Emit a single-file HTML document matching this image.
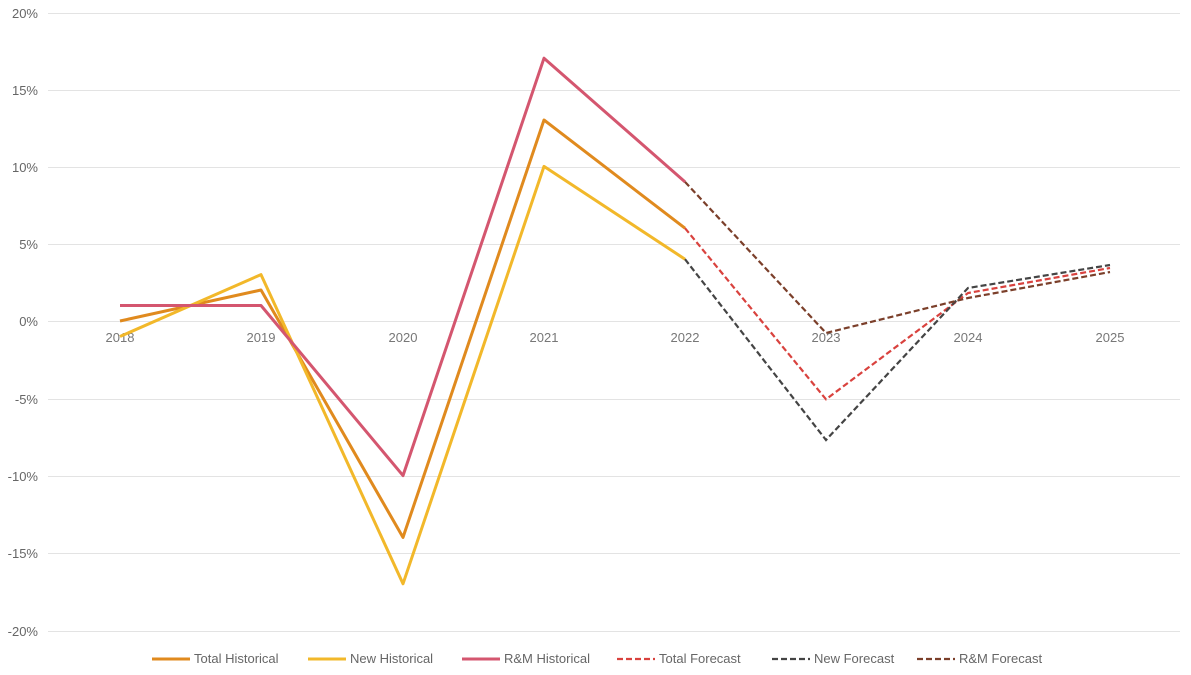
<!DOCTYPE html>
<html><head><meta charset="utf-8"><style>
html,body{margin:0;padding:0;background:#fff;}
svg{display:block;font-family:"Liberation Sans",sans-serif;}
</style></head><body>
<svg width="1191" height="675" viewBox="0 0 1191 675">
<g stroke="#e3e3e3" stroke-width="1">
<line x1="48" x2="1180" y1="13.5" y2="13.5"/>
<line x1="48" x2="1180" y1="90.5" y2="90.5"/>
<line x1="48" x2="1180" y1="167.5" y2="167.5"/>
<line x1="48" x2="1180" y1="244.5" y2="244.5"/>
<line x1="48" x2="1180" y1="321.5" y2="321.5"/>
<line x1="48" x2="1180" y1="399.5" y2="399.5"/>
<line x1="48" x2="1180" y1="476.5" y2="476.5"/>
<line x1="48" x2="1180" y1="553.5" y2="553.5"/>
<line x1="48" x2="1180" y1="631.5" y2="631.5"/>
</g>
<g fill="#666" font-size="13" text-anchor="end">
<text x="38" y="18">20%</text>
<text x="38" y="95">15%</text>
<text x="38" y="172">10%</text>
<text x="38" y="249">5%</text>
<text x="38" y="326">0%</text>
<text x="38" y="404">-5%</text>
<text x="38" y="481">-10%</text>
<text x="38" y="558">-15%</text>
<text x="38" y="636">-20%</text>
</g>
<g fill="#777" font-size="13" text-anchor="middle">
<text x="120" y="342">2018</text>
<text x="261" y="342">2019</text>
<text x="403" y="342">2020</text>
<text x="544" y="342">2021</text>
<text x="685" y="342">2022</text>
<text x="826" y="342">2023</text>
<text x="968" y="342">2024</text>
<text x="1110" y="342">2025</text>
</g>
<g fill="none" stroke-width="3" stroke-linejoin="round">
<polyline stroke="#E08A1E" points="120,321 261,290 403,537.4 544,120 685,228.2"/>
<polyline stroke="#F2B82A" points="120,336.5 261,274.6 403,583.8 544,166.4 685,259.2"/>
<polyline stroke="#D4566F" points="120,305.5 261,305.5 403,475.6 544,58.2 685,181.9"/>
</g>
<g fill="none" stroke-width="2.2" stroke-dasharray="6,3">
<polyline stroke="#D9423E" points="685,228.2 826,399.3 968,293 1110,268"/>
<polyline stroke="#444" points="685,259.2 826,440 968,288 1110,265"/>
<polyline stroke="#7B3F2A" points="685,181.9 826,333 968,298 1110,272"/>
</g>
<g font-size="13" fill="#666">
<line x1="152" x2="190" y1="659" y2="659" stroke="#E08A1E" stroke-width="3"/>
<text x="194" y="663">Total Historical</text>
<line x1="308" x2="346" y1="659" y2="659" stroke="#F2B82A" stroke-width="3"/>
<text x="350" y="663">New Historical</text>
<line x1="462" x2="500" y1="659" y2="659" stroke="#D4566F" stroke-width="3"/>
<text x="504" y="663">R&amp;M Historical</text>
<line x1="617" x2="655" y1="659" y2="659" stroke="#D9423E" stroke-width="2.2" stroke-dasharray="6,3"/>
<text x="659" y="663">Total Forecast</text>
<line x1="772" x2="810" y1="659" y2="659" stroke="#444" stroke-width="2.2" stroke-dasharray="6,3"/>
<text x="814" y="663">New Forecast</text>
<line x1="917" x2="955" y1="659" y2="659" stroke="#7B3F2A" stroke-width="2.2" stroke-dasharray="6,3"/>
<text x="959" y="663">R&amp;M Forecast</text>
</g>
</svg>
</body></html>
